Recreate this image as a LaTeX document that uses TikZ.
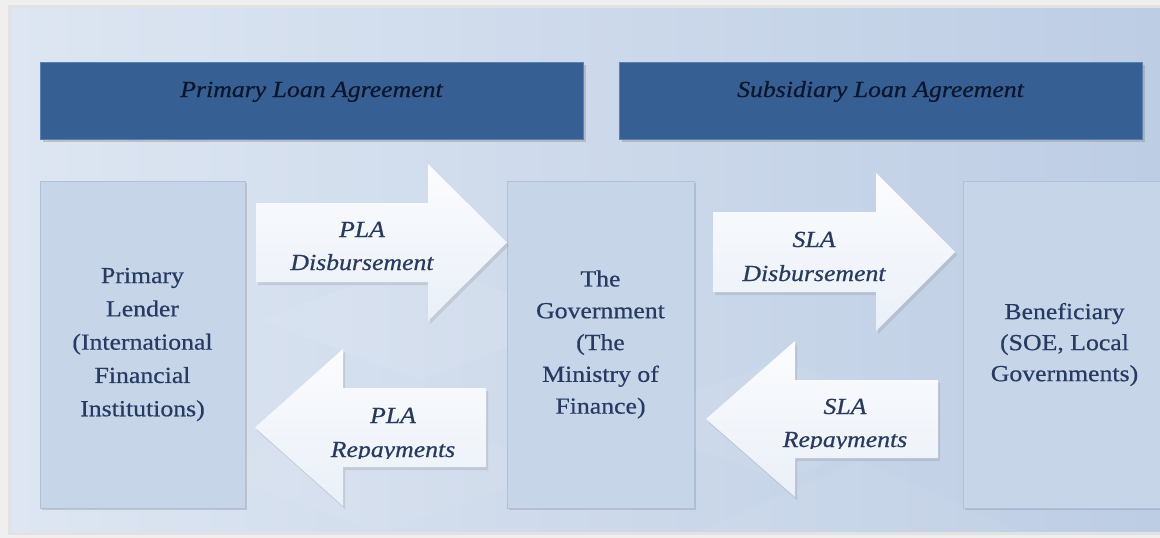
\documentclass[tikz,border=0pt]{standalone}
\usepackage{fontspec}
\setmainfont[FakeStretch=1.12,FakeBold=0.6]{Liberation Serif}
\usetikzlibrary{shadows}
\definecolor{bgout}{HTML}{EFEFEF}
\definecolor{panelL}{HTML}{DDE6F2}
\definecolor{panelR}{HTML}{BDCDE4}
\definecolor{hdr}{HTML}{366094}
\definecolor{hdredge}{HTML}{5A80B0}
\definecolor{hdrtxt}{HTML}{0B162D}
\definecolor{boxfill}{HTML}{C7D5E9}
\definecolor{boxline}{HTML}{AFC0D8}
\definecolor{boxtxt}{HTML}{263A62}
\definecolor{arrowA}{HTML}{FBFCFE}
\definecolor{arrowB}{HTML}{EAF0F8}
\begin{document}
\begin{tikzpicture}[x=1pt,y=-1pt,
  hdrbox/.style={rectangle, fill=hdr, draw=hdredge, line width=0.6pt, inner sep=0pt, outer sep=0pt,
    drop shadow={shadow xshift=2.5pt, shadow yshift=-3pt, opacity=0.35}},
  hdrtext/.style={font=\fontsize{23}{28}\selectfont\itshape, text=hdrtxt, inner sep=0pt, anchor=base},
  entity/.style={rectangle, fill=boxfill, draw=boxline, line width=0.8pt, inner sep=0pt, outer sep=0pt,
    align=center, text=boxtxt, minimum height=327pt,
    drop shadow={shadow xshift=2pt, shadow yshift=-2pt, opacity=0.3}},
  blockarrow/.style={top color=arrowA, bottom color=arrowB, draw=none,
    drop shadow={shadow xshift=2pt, shadow yshift=-3pt, opacity=0.22}},
  lbl/.style={font=\fontsize{23}{28}\selectfont\itshape, text=boxtxt, inner sep=0pt, anchor=base}
]
\useasboundingbox (0,0) rectangle (1160,538);
% background
\fill[bgout] (0,0) rectangle (1160,538);
\fill[black, opacity=0.05] (8,5) rectangle (1160,535);
\fill[left color=panelL, right color=panelR] (12,8) rectangle (1160,531);
% faint texture
\fill[white, opacity=0.07] (260,320) -- (420,260) -- (580,320) -- (420,380) -- cycle;
\fill[white, opacity=0.06] (620,420) -- (780,360) -- (940,420) -- (780,480) -- cycle;
\fill[white, opacity=0.05] (200,470) -- (380,400) -- (560,470) -- (380,531) -- cycle;
\fill[white, opacity=0.05] (700,531) -- (860,460) -- (1020,531) -- cycle;

% headers
\node[hdrbox, minimum width=543pt, minimum height=77pt] (h1) at (311.5,100.5) {};
\node[hdrbox, minimum width=523pt, minimum height=77pt] (h2) at (880.5,100.5) {};
\node[hdrtext] (h1t) at (311.5,97) {Primary Loan Agreement};
\node[hdrtext] (h2t) at (880.5,97) {Subsidiary Loan Agreement};

% entity boxes
\node[entity, minimum width=205pt, font=\fontsize{23}{33.3}\selectfont] (lender) at (142.5,344.5)
  {Primary\\Lender\\(International\\Financial\\Institutions)};
\node[entity, minimum width=187pt, font=\fontsize{23}{31.8}\selectfont] (gov) at (600.5,344.5)
  {The\\Government\\(The\\Ministry of\\Finance)};
\node[entity, minimum width=203pt, font=\fontsize{23}{31}\selectfont] (benef) at (1064.5,344.5)
  {Beneficiary\\(SOE, Local\\Governments)};

% block arrows
\path[blockarrow] (256,203) -- (428,203) -- (428,164) -- (gov.west |- 0,242.5) -- (428,321) -- (428,282) -- (256,282) -- cycle;
\path[blockarrow] (486,388) -- (343,388) -- (343,349) -- (255,427.5) -- (343,506) -- (343,467) -- (486,467) -- cycle;
\path[blockarrow] (713,212) -- (876,212) -- (876,173) -- (955,252) -- (876,331) -- (876,292) -- (713,292) -- cycle;
\path[blockarrow] (938,380) -- (795,380) -- (795,341) -- (706,419) -- (795,497) -- (795,458) -- (938,458) -- cycle;

% arrow labels
\node[lbl] (pla1) at (362,237) {PLA};
\node[lbl] (pla1b) at (362,270) {Disbursement};
\node[lbl] (pla2) at (393,423) {PLA};
\begin{scope}
  \clip (300,380) rectangle (490,458);
  \node[lbl] (pla2b) at (393,457) {Repayments};
\end{scope}
\node[lbl] (sla1) at (814,247) {SLA};
\node[lbl] (sla1b) at (814,281) {Disbursement};
\node[lbl] (sla2) at (845,414) {SLA};
\begin{scope}
  \clip (750,370) rectangle (945,448);
  \node[lbl] (sla2b) at (845,447) {Repayments};
\end{scope}
\end{tikzpicture}
\end{document}
